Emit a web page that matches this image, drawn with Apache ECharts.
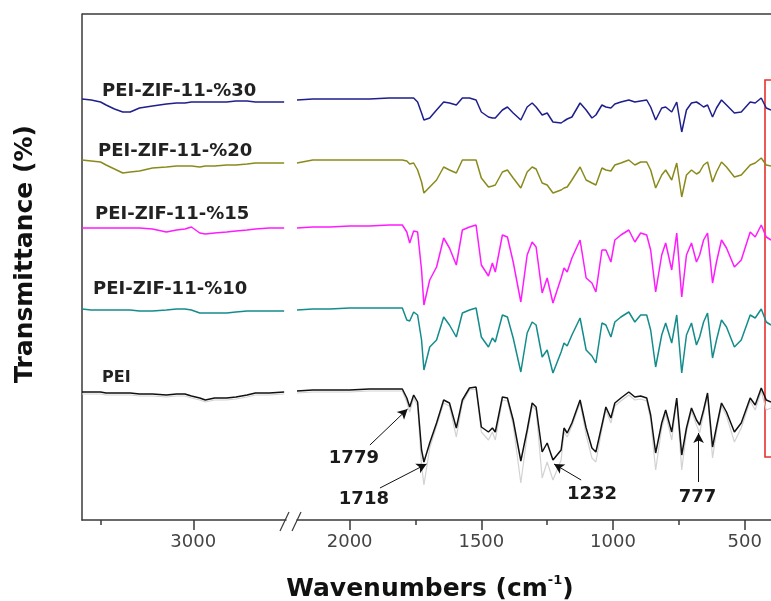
<!DOCTYPE html>
<html>
<head>
<meta charset="utf-8">
<script src="https://cdn.jsdelivr.net/npm/echarts@6/dist/echarts.min.js"></script>
<style>html,body{margin:0;padding:0;background:#fff;}#c{width:771px;height:601px;}</style>
</head>
<body>
<div id="c"></div>
<script>
// ---- Wavenumber grids (cm-1) ----
const wnLeft = [3600,3550,3500,3470,3425,3380,3340,3290,3220,3145,3090,3045,3010,2965,2935,2885,2820,2770,2710,2665,2590,2510];
const wnRight = [2200,2140,2075,2000,1925,1850,1800,1783,1772,1757,1742,1727,1718,1696,1670,1643,1621,1595,1572,1545,1520,1500,1473,1458,1447,1420,1401,1379,1350,1326,1307,1292,1269,1250,1228,1197,1186,1174,1156,1125,1102,1080,1065,1042,1027,1008,993,970,940,917,895,872,857,838,815,800,777,758,739,721,702,683,671,656,641,622,607,588,569,539,513,479,460,437,418,400];

// ---- Transmittance (stacked, arbitrary units) ----
const peiL      = [128,128,128,127,127,127,127,126,126,125,126,126,124,122,120,122,122,123,125,127,127,128];
const peiShadowL= [126,126,126,125,125,125,125,124,124,123,124,124,122,120,118,120,120,121,123,125,125,126];
const zif10L    = [211,210,210,210,210,210,210,209,209,210,211,211,210,207,207,207,207,208,209,209,209,209];
const zif15L    = [292,292,292,292,292,292,292,292,291,288,290,291,293,287,286,287,288,289,290,291,292,292];
const zif20L    = [360,359,358,355,351,347,348,349,352,353,354,354,354,353,354,354,355,355,356,357,357,357];
const zif30L    = [421,420,418,415,411,408,408,412,414,416,417,417,418,418,418,418,418,419,419,418,418,418];

const peiR = [129,130,130,130,131,131,131,122,113,125, 118,70,58,77,97,120,117,92,120,132, 133,93,88,92,88,123,122,100,59,90, 117,113,68,77,60,70,92,87,97,120, 92,72,68,95,113,102,117,122,128,123, 124,122,105,67,97,110,88,122,65,92, 112,100,95,110,127,73,93,117,108,88, 97,122,115,132,120,118];
const peiShadowR = [127,128,128,128,129,129,129,118,108,122, 114,55,35,72,94,117,114,83,117,130, 131,88,80,88,80,120,119,95,37,85, 114,110,42,58,40,60,88,83,94,117, 85,62,58,91,110,97,114,119,125,120, 121,119,100,50,92,106,80,119,50,88, 109,95,87,106,124,62,88,114,104,78, 92,119,110,129,110,112];
const zif10R = [210,211,211,212,212,212,212,200,199,208, 205,180,150,173,180,203,195,183,207,210, 212,183,173,182,178,205,203,182,148,187, 198,195,163,170,147,168,177,174,185,202, 170,164,157,197,195,183,198,203,208,198, 205,205,190,153,185,197,177,205,147,185, 197,175,183,198,207,162,180,200,193,173, 180,205,202,211,198,195];
const zif15R = [292,293,293,294,294,295,295,288,277,289, 288,250,215,240,253,282,272,255,290,293, 295,255,244,257,248,285,283,258,218,265, 278,273,227,242,217,242,252,248,262,280, 242,237,228,270,270,258,280,285,290,278, 287,285,270,228,265,277,250,287,223,265, 277,258,265,280,287,237,258,280,272,253, 260,288,283,295,283,280];
const zif20R = [357,360,360,360,360,360,360,359,356,357, 350,338,327,333,340,353,350,347,360,360, 360,342,333,334,335,348,350,342,332,348, 353,351,337,335,327,330,332,333,340,353, 340,337,335,352,350,349,355,357,360,355, 358,358,350,332,345,350,340,357,323,345, 350,346,348,355,358,338,348,358,353,343, 345,355,357,362,355,354];
const zif30R = [420,421,421,421,421,422,422,422,422,422, 418,407,400,402,410,418,417,415,422,422, 420,408,403,402,402,410,413,407,400,413, 417,413,405,407,398,397,399,401,403,417, 410,402,405,415,413,412,416,418,420,418, 419,420,413,400,412,413,408,418,388,410, 417,418,416,413,415,403,412,420,415,407, 408,418,417,422,412,410];

// ---- Axis ticks ----
const leftMajor = [3000];
const leftMinor = [3500];
const rightMajor = [2000, 1500, 1000, 500];
const rightMinor = [1750, 1250, 750];

// ---- Sample names ----
const sampleNames = ['PEI-ZIF-11-%30','PEI-ZIF-11-%20','PEI-ZIF-11-%15','PEI-ZIF-11-%10','PEI'];

// ---- Band annotations: label, arrow tail [wn, T], arrow tip [wn, T], label pos [wn, T] ----
const bandLabels = ['1779','1718','1232','777'];
const arrowTail  = [[1923,75],[1885,32],[1121,40],[675,38]];
const arrowTip   = [[1780,111],[1708,56],[1224,56],[675,87]];
const labelPos   = [[1984,62],[1946,21],[1080,26],[679,23]];

const chart = echarts.init(document.getElementById('c'), null, {renderer:'canvas'});
const axisColor = '#3a3a3a';
const FONT = 'DejaVu Sans';

function pairs(x, y){ return x.map((v,i)=>[v, y[i]]); }

function mainX(grid, min, max, ticks){
  return {gridIndex:grid, type:'value', min:min, max:max, inverse:true, position:'bottom',
    axisLine:{show:true, onZero:false, lineStyle:{color:axisColor, width:1.5}},
    axisTick:{show:true, inside:false, length:10, customValues:ticks, lineStyle:{color:axisColor, width:1.5}},
    axisLabel:{show:true, customValues:ticks, margin:13, fontSize:18, fontFamily:FONT, color:'#444',
      formatter:(v)=>String(v)},
    splitLine:{show:false}};
}
function minorX(grid, min, max, ticks){
  return {gridIndex:grid, type:'value', min:min, max:max, inverse:true, position:'bottom',
    axisLine:{show:false, onZero:false},
    axisTick:{show:true, inside:false, length:5, customValues:ticks, lineStyle:{color:axisColor, width:1.5}},
    axisLabel:{show:false}, splitLine:{show:false}};
}

const colors = {zif30:'#1e1e8c', zif20:'#8a8a1c', zif15:'#ff1aff', zif10:'#148c8c', pei:'#111111', shadow:'#d2d2d2'};

function line(name, xi, data, color, width, z){
  return {name:name, type:'line', xAxisIndex:xi, yAxisIndex:(xi<2?0:1), data:data, showSymbol:false, symbol:'none',
    lineStyle:{color:color, width:width}, itemStyle:{color:color}, z:z||2, silent:true};
}

const series = [
  line('PEI shadow', 0, pairs(wnLeft, peiShadowL), colors.shadow, 1.2, 1),
  line('PEI shadow', 2, pairs(wnRight, peiShadowR), colors.shadow, 1.2, 1),
  line(sampleNames[0], 0, pairs(wnLeft, zif30L), colors.zif30, 1.5),
  line(sampleNames[0], 2, pairs(wnRight, zif30R), colors.zif30, 1.5),
  line(sampleNames[1], 0, pairs(wnLeft, zif20L), colors.zif20, 1.5),
  line(sampleNames[1], 2, pairs(wnRight, zif20R), colors.zif20, 1.5),
  line(sampleNames[2], 0, pairs(wnLeft, zif15L), colors.zif15, 1.5),
  line(sampleNames[2], 2, pairs(wnRight, zif15R), colors.zif15, 1.5),
  line(sampleNames[3], 0, pairs(wnLeft, zif10L), colors.zif10, 1.5),
  line(sampleNames[3], 2, pairs(wnRight, zif10R), colors.zif10, 1.5),
  line(sampleNames[4], 0, pairs(wnLeft, peiL), colors.pei, 1.5, 3),
  Object.assign(line(sampleNames[4], 2, pairs(wnRight, peiR), colors.pei, 1.5, 3), {
    markLine:{silent:true, symbol:['none','arrow'], symbolSize:[8,10], animation:false,
      lineStyle:{color:'#111', width:1, type:'solid'}, label:{show:false},
      emphasis:{disabled:true},
      data: arrowTail.map((t,i)=>[{coord:t},{coord:arrowTip[i]}])},
    markPoint:{silent:true, symbol:'circle', symbolSize:0, animation:false,
      label:{show:true, position:'inside', fontSize:18, fontWeight:'bold', fontFamily:FONT, color:'#1a1a1a',
        formatter:(p)=>p.name},
      data: labelPos.map((p,i)=>({name:bandLabels[i], coord:p}))}
  })
];

const labelY = [91,151,214,289,378];
const labelX = [102,98,95,93,102];

const graphic = [
  {type:'line', shape:{x1:82, y1:14, x2:771, y2:14}, style:{stroke:axisColor, lineWidth:1.5}, silent:true},
  {type:'line', shape:{x1:280, y1:531, x2:289, y2:512}, style:{stroke:axisColor, lineWidth:1.2}, silent:true},
  {type:'line', shape:{x1:292, y1:531, x2:301, y2:512}, style:{stroke:axisColor, lineWidth:1.2}, silent:true},
  {type:'rect', shape:{x:765, y:80, width:40, height:377}, style:{stroke:'#e8302c', fill:'none', lineWidth:1.6}, silent:true},
  {type:'text', x:25, y:254, rotation:Math.PI/2, silent:true,
    style:{text:'Transmittance (%)', textAlign:'center', textVerticalAlign:'middle', font:'bold 25px "DejaVu Sans"', fill:'#111'}},
  {type:'text', x:430, y:589, silent:true,
    style:{text:'{a|Wavenumbers (cm}{s|-1}{a|)}', textAlign:'center', textVerticalAlign:'middle', fill:'#111',
      rich:{a:{fontSize:25, fontWeight:'bold', fontFamily:FONT, lineHeight:30, fill:'#111', color:'#111'},
            s:{fontSize:13, fontWeight:'bold', fontFamily:FONT, lineHeight:30, verticalAlign:'top', fill:'#111', color:'#111'}}}}
];
sampleNames.forEach((n,i)=>{
  graphic.push({type:'text', x:labelX[i], y:labelY[i], silent:true,
    style:{text:n, textAlign:'left', textVerticalAlign:'middle', font:(i===4?'bold 16px':'bold 18px')+' "DejaVu Sans"', fill:'#222'}});
});

chart.setOption({
  animation:false,
  backgroundColor:'#ffffff',
  grid:[{left:82, top:14, width:204, height:506}, {left:297, top:14, width:476, height:506}],
  xAxis:[mainX(0,2500,3600,leftMajor), minorX(0,2500,3600,leftMinor), mainX(1,400,2200,rightMajor), minorX(1,400,2200,rightMinor)],
  yAxis:[
    {gridIndex:0, type:'value', min:0, max:506, axisLine:{show:true, onZero:false, lineStyle:{color:axisColor, width:1.5}},
      axisTick:{show:false}, axisLabel:{show:false}, splitLine:{show:false}},
    {gridIndex:1, type:'value', min:0, max:506, show:false, splitLine:{show:false}}
  ],
  series:series,
  graphic:graphic
});
</script>
</body>
</html>
